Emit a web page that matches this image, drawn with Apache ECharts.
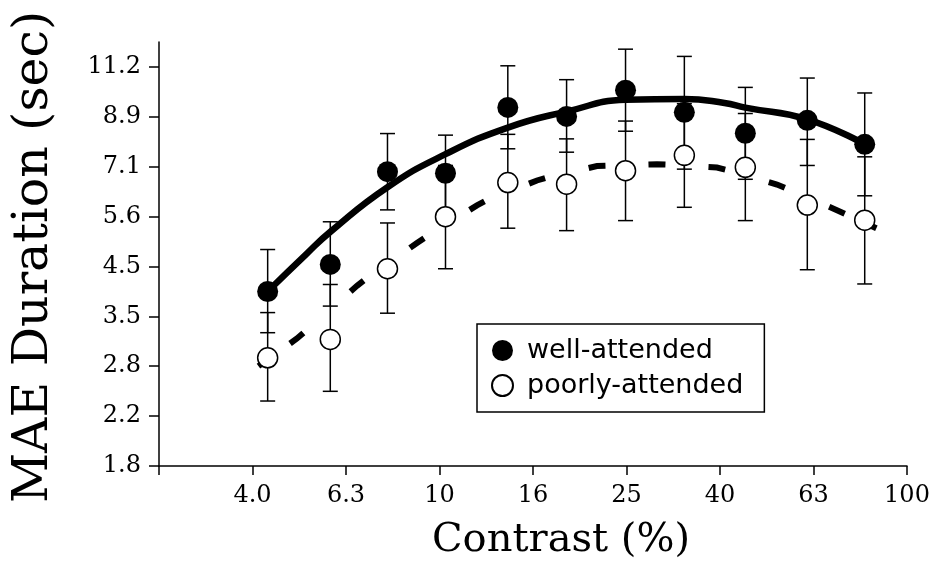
<!DOCTYPE html>
<html>
<head>
<meta charset="utf-8">
<title>MAE Duration vs Contrast</title>
<script src="https://cdn.jsdelivr.net/npm/echarts@6/dist/echarts.min.js"></script>
<style>
    html, body { margin: 0; padding: 0; background: #fff; }
    #chart { width: 934px; height: 566px; }
</style>
</head>
<body>
<div id="chart"></div>
<script>
// contrast of each condition (%)
var contrast = [4.29, 5.84, 7.74, 10.3, 14.0, 18.7, 25.0, 33.4, 45.1, 61.2, 81.2];

// well-attended: mean and error bar ends (sec)
var wellMean = [3.98, 4.51, 6.92, 6.87, 9.31, 8.93, 10.08, 9.10, 8.26, 8.77, 7.85];
var wellHi   = [4.83, 5.49, 8.25, 8.19, 11.28, 10.58, 12.18, 11.78, 10.21, 10.66, 9.95];
var wellLo   = [3.29, 3.72, 5.80, 5.77, 7.69, 7.57, 8.34, 7.00, 6.68, 7.12, 6.19];

// poorly-attended
var poorMean = [2.93, 3.19, 4.42, 5.62, 6.58, 6.53, 6.95, 7.46, 7.06, 5.93, 5.53];
var poorHi   = [3.61, 4.11, 5.46, 7.12, 8.22, 8.05, 8.74, 9.47, 9.05, 8.03, 7.41];
var poorLo   = [2.40, 2.51, 3.60, 4.42, 5.33, 5.27, 5.52, 5.87, 5.52, 4.40, 4.12];

// fitted curves
var wellFitX = [4.29, 5.19, 5.84, 7.74, 10.3, 14.0, 18.7, 25.0, 33.4, 40.7, 45.1, 61.2, 81.2];
var wellFitY = [3.98, 4.73, 5.24, 6.44, 7.50, 8.48, 9.13, 9.64, 9.68, 9.50, 9.30, 8.81, 7.85];
var poorFitX = [4.10, 4.95, 6.77, 9.09, 12.3, 16.4, 21.7, 29.5, 39.5, 53.0, 71.2, 86.0];
var poorFitY = [2.82, 3.20, 4.14, 5.03, 6.00, 6.68, 7.10, 7.16, 7.05, 6.51, 5.78, 5.33];

// axis ticks
var xTickValues = [2.512, 3.981, 6.310, 10, 15.85, 25.12, 39.81, 63.10, 100];
var xTickLabels = ['', '4.0', '6.3', '10', '16', '25', '40', '63', '100'];
var yTickValues = [1.778, 2.239, 2.818, 3.548, 4.467, 5.623, 7.079, 8.913, 11.22];
var yTickLabels = ['1.8', '2.2', '2.8', '3.5', '4.5', '5.6', '7.1', '8.9', '11.2'];

// dash rhythm of the poorly-attended fit (px)
var dashLen = 17, dashStepX = 60, dashPhaseX = 38.5, dashStub = 6;

function pickLabel(values, labels, v) {
    for (var i = 0; i < values.length; i++) {
        if (Math.abs(values[i] - v) < values[i] * 1e-3) return labels[i];
    }
    return '';
}

function pairs(xs, ys) {
    var out = [];
    for (var i = 0; i < xs.length; i++) out.push([xs[i], ys[i]]);
    return out;
}

function bars(lo, hi) {
    var out = [];
    for (var i = 0; i < contrast.length; i++) out.push([contrast[i], lo[i], hi[i]]);
    return out;
}

function renderBar(params, api) {
    var x = api.value(0);
    var bot = api.coord([x, api.value(1)]);
    var top = api.coord([x, api.value(2)]);
    var w = 7.5;
    var st = { stroke: '#000', lineWidth: 1.5 };
    return {
        type: 'group',
        children: [
            { type: 'line', shape: { x1: top[0], y1: top[1], x2: bot[0], y2: bot[1] }, style: st },
            { type: 'line', shape: { x1: top[0] - w, y1: top[1], x2: top[0] + w, y2: top[1] }, style: st },
            { type: 'line', shape: { x1: bot[0] - w, y1: bot[1], x2: bot[0] + w, y2: bot[1] }, style: st }
        ]
    };
}

// dashed fit: short dashes laid along the curve at an even horizontal step
function renderDashed(params, api) {
    if (params.dataIndex !== 0) return null;
    var pts = [];
    for (var i = 0; i < poorFitX.length; i++) pts.push(api.coord([poorFitX[i], poorFitY[i]]));
    var cum = [0];
    for (i = 1; i < pts.length; i++) {
        cum.push(cum[i - 1] + Math.hypot(pts[i][0] - pts[i - 1][0], pts[i][1] - pts[i - 1][1]));
    }
    var total = cum[cum.length - 1];
    function at(s) {
        for (var k = 1; k < pts.length; k++) {
            if (s <= cum[k] || k === pts.length - 1) {
                var t = (s - cum[k - 1]) / (cum[k] - cum[k - 1]);
                return [pts[k - 1][0] + t * (pts[k][0] - pts[k - 1][0]), pts[k - 1][1] + t * (pts[k][1] - pts[k - 1][1])];
            }
        }
    }
    function sAtX(x) {
        for (var k = 1; k < pts.length; k++) {
            if (x <= pts[k][0]) {
                var t = (x - pts[k - 1][0]) / (pts[k][0] - pts[k - 1][0]);
                return cum[k - 1] + t * (cum[k] - cum[k - 1]);
            }
        }
        return total;
    }
    function piece(a, b) {
        return {
            type: 'polyline',
            shape: { points: [at(a), at((a + b) / 2), at(b)] },
            style: { stroke: '#000', fill: 'none', lineWidth: 6, lineCap: 'butt' }
        };
    }
    var children = [piece(0, dashStub)];
    for (var cx = pts[0][0] + dashPhaseX; cx < pts[pts.length - 1][0]; cx += dashStepX) {
        var sc = sAtX(cx);
        children.push(piece(Math.max(0, sc - dashLen / 2), Math.min(total, sc + dashLen / 2)));
    }
    children.push(piece(total - dashStub, total));
    return { type: 'group', children: children };
}

var serif = 'DejaVu Serif';
var myChart = echarts.init(document.getElementById('chart'));

var option = {
    backgroundColor: '#fff',
    animation: false,
    grid: { left: 159, right: 27, top: 42, bottom: 99 },
    legend: {
        data: ['well-attended', 'poorly-attended'],
        orient: 'vertical',
        left: 477,
        top: 324,
        itemWidth: 39,
        itemHeight: 21,
        itemGap: 8,
        padding: [13, 21, 13, 14],
        borderColor: '#000',
        borderWidth: 1.5,
        textStyle: { fontFamily: 'DejaVu Sans', fontSize: 27, color: '#000' }
    },
    xAxis: {
        type: 'log',
        min: 2.512,
        max: 100,
        name: 'Contrast (%)',
        nameLocation: 'middle',
        nameGap: 55,
        nameTextStyle: { fontFamily: serif, fontSize: 40, color: '#000', padding: [0, 0, 0, 56] },
        axisLine: { lineStyle: { color: '#000', width: 1.5 } },
        axisTick: { customValues: xTickValues, length: 9, lineStyle: { color: '#000', width: 1.5 } },
        axisLabel: {
            customValues: xTickValues,
            margin: 18,
            fontFamily: serif,
            fontSize: 24,
            color: '#000',
            formatter: function (v) { return pickLabel(xTickValues, xTickLabels, v); }
        },
        splitLine: { show: false },
        minorTick: { show: false }
    },
    yAxis: {
        type: 'log',
        min: 1.778,
        max: 12.59,
        name: 'MAE Duration (sec)',
        nameLocation: 'middle',
        nameGap: 100,
        nameTextStyle: { fontFamily: serif, fontSize: 49, color: '#000', padding: [0, 6, 0, 0] },
        axisLine: { lineStyle: { color: '#000', width: 1.5 } },
        axisTick: { customValues: yTickValues, length: 10, lineStyle: { color: '#000', width: 1.5 } },
        axisLabel: {
            customValues: yTickValues,
            margin: 18,
            fontFamily: serif,
            fontSize: 24,
            color: '#000',
            formatter: function (v) { return pickLabel(yTickValues, yTickLabels, v); }
        },
        splitLine: { show: false },
        minorTick: { show: false }
    },
    series: [
        {
            name: 'well-err',
            type: 'custom',
            renderItem: renderBar,
            encode: { x: 0, y: [1, 2] },
            data: bars(wellLo, wellHi),
            z: 1
        },
        {
            name: 'poor-err',
            type: 'custom',
            renderItem: renderBar,
            encode: { x: 0, y: [1, 2] },
            data: bars(poorLo, poorHi),
            z: 1
        },
        {
            name: 'well-fit',
            type: 'line',
            data: pairs(wellFitX, wellFitY),
            smooth: 0.5,
            showSymbol: false,
            lineStyle: { color: '#000', width: 6.5 },
            z: 2
        },
        {
            name: 'poor-fit',
            type: 'custom',
            renderItem: renderDashed,
            encode: { x: 0, y: 1 },
            data: pairs(poorFitX, poorFitY),
            z: 2
        },
        {
            name: 'well-attended',
            type: 'scatter',
            symbol: 'circle',
            symbolSize: 21,
            data: pairs(contrast, wellMean),
            itemStyle: { color: '#000', opacity: 1 },
            z: 3
        },
        {
            name: 'poorly-attended',
            type: 'scatter',
            symbol: 'circle',
            symbolSize: 20,
            data: pairs(contrast, poorMean),
            itemStyle: { color: '#fff', borderColor: '#000', borderWidth: 1.5, opacity: 1 },
            z: 3
        }
    ]
};
myChart.setOption(option);
</script>
</body>
</html>
